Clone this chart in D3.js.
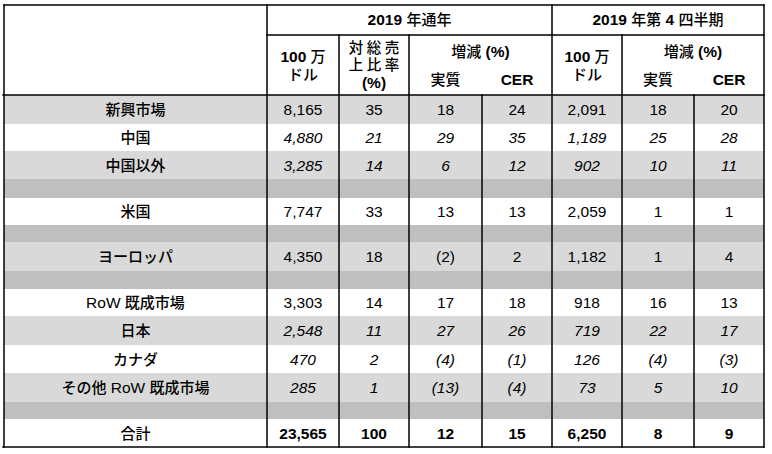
<!DOCTYPE html>
<html><head><meta charset="utf-8">
<script src="https://cdn.jsdelivr.net/npm/d3@7"></script>
<style>
html,body{margin:0;padding:0;background:#fff;}
svg{display:block;}
text{font-family:"Liberation Sans",Arial,"Noto Sans CJK JP",sans-serif;fill:#000;}
</style></head>
<body><svg id="c" width="772" height="454"></svg>
<script>
// ---- data ----
const regions   = ["新興市場","中国","中国以外","","米国","","ヨーロッパ","","RoW 既成市場","日本","カナダ","その他 RoW 既成市場","","合計"];
const rowKinds  = ["main","sub","sub","gap","main","gap","main","gap","main","sub","sub","sub","gap","total"];
const fyMillions = [8165,4880,3285,null,7747,null,4350,null,3303,2548,470,285,null,23565];
const fyShare    = [35,21,14,null,33,null,18,null,14,11,2,1,null,100];
const fyActual   = [18,29,6,null,13,null,-2,null,17,27,-4,-13,null,12];
const fyCER      = [24,35,12,null,13,null,2,null,18,26,-1,-4,null,15];
const q4Millions = [2091,1189,902,null,2059,null,1182,null,918,719,126,73,null,6250];
const q4Actual   = [18,25,10,null,1,null,1,null,16,22,-4,5,null,8];
const q4CER      = [20,28,11,null,1,null,4,null,13,17,-3,10,null,9];
const groupHeaders = ["2019 年通年","2019 年第 4 四半期"];
const subHeaders = {millions:["100 万","ドル"], share:["対総売","上比率","(%)"], change:"増減 (%)", actual:"実質", cer:"CER"};

// ---- layout / style ----
const colEdges = [4,267,339,409,482,552,622,694,764];
const rowHeights = [29,27,28,19,27,17,29,18,27,29,28,29,17,28];
const rowShade = ["light","white","light","dark","white","dark","light","dark","white","light","white","light","dark","white"];
const shadeColor = {light:"#d9d9d9", dark:"#bfbfbf", white:"#ffffff"};
const topY = 5, headMid = 35, headBottom = 95;
const fs = 15.5;

const svg = d3.select("#c");
const rowY = d3.scaleOrdinal().domain(d3.range(regions.length))
  .range(d3.range(regions.length).map(i => headBottom + d3.sum(rowHeights.slice(0,i))));
const bottomY = headBottom + d3.sum(rowHeights);
const colX = i => colEdges[i];
const colC = i => (colEdges[i]+colEdges[i+1])/2;

const fmt = d3.format(",");
const fmtVal = v => v == null ? "" : (v < 0 ? "(" + fmt(-v) + ")" : fmt(v));

// row backgrounds
svg.append("g").selectAll("rect").data(regions).join("rect")
  .attr("x", colX(0)).attr("y", (d,i)=>rowY(i))
  .attr("width", colX(8)-colX(0)).attr("height", (d,i)=>rowHeights[i])
  .attr("fill", (d,i)=>shadeColor[rowShade[i]]);

// helper to write text with CJK runs in a CJK font
function richText(sel, str, latinWeight, cjkWeight){
  const parts = str.match(/[\u3000-\u9fff\uff00-\uffef]+|[^\u3000-\u9fff\uff00-\uffef]+/g) || [];
  parts.forEach(p=>{
    const cjk = /[\u3000-\u9fff\uff00-\uffef]/.test(p);
    sel.append("tspan").text(p)
      .attr("font-family", cjk ? "'Noto Sans CJK JP',sans-serif" : "'Liberation Sans',Arial,sans-serif")
      .attr("font-size", cjk ? 15 : null)
      .attr("font-weight", cjk ? cjkWeight : latinWeight);
  });
}

// body cells
const cols = [fyMillions, fyShare, fyActual, fyCER, q4Millions, q4Actual, q4CER];
const body = svg.append("g").attr("font-size", fs);
regions.forEach((r,i)=>{
  if (rowKinds[i]==="gap") return;
  const cy = rowY(i) + rowHeights[i]/2 + 5.5;
  const t = body.append("text").attr("x", colC(0)).attr("y", cy).attr("text-anchor","middle");
  richText(t, r, rowKinds[i]==="total"?"bold":"normal", 500);
  cols.forEach((arr,j)=>{
    body.append("text").attr("x", colC(j+1)).attr("y", cy).attr("text-anchor","middle")
      .attr("font-style", rowKinds[i]==="sub" ? "italic" : "normal")
      .attr("font-weight", rowKinds[i]==="total" ? "bold" : "normal")
      .text(fmtVal(arr[i]));
  });
});

// header text
const hd = svg.append("g").attr("font-size", fs).attr("text-anchor","middle");
function hText(x,y,str,ls){
  const t = hd.append("text").attr("x",x + (ls||0)/2).attr("y",y);
  if (ls) t.attr("letter-spacing", ls);
  richText(t,str,"bold",500);
}
hText((colX(1)+colX(5))/2, 25, groupHeaders[0]);
hText((colX(5)+colX(8))/2, 25, groupHeaders[1]);
[1,5].forEach(c=>{
  hText(colC(c), 62, subHeaders.millions[0]);
  hText(colC(c), 80, subHeaders.millions[1]);
});
// stacked share header (plain text with font fallback, tighter line box)
[[subHeaders.share[0],53,3.5],[subHeaders.share[1],69.5,3.5]].forEach(([s,y,ls])=>{
  hd.append("text").attr("x", colC(2) + ls/2).attr("y", y)
    .attr("font-size", 14.5).attr("font-weight", 500).attr("letter-spacing", ls)
    .style("font-family", "'Liberation Sans','Noto Sans CJK JP',sans-serif")
    .text(s);
});
hText(colC(2), 88, subHeaders.share[2]);
[[3,4],[6,7]].forEach(([a,b])=>{
  hText((colX(a)+colX(b+1))/2, 57, subHeaders.change);
  hText(colC(a), 85, subHeaders.actual);
  hText(colC(b), 85, subHeaders.cer);
});

// grid lines
const lines = [
  [colX(0), topY, colX(8), topY],
  [colX(1), headMid, colX(8), headMid],
  [colX(0)-1, headBottom, colX(8), headBottom],
  [colX(0)-1, bottomY, colX(8), bottomY],
  [colX(0), topY, colX(0), bottomY],
  [colX(1), topY, colX(1), bottomY],
  [colX(2), headMid, colX(2), bottomY],
  [colX(3), headMid, colX(3), bottomY],
  [colX(4), headBottom, colX(4), bottomY],
  [colX(5), topY, colX(5), bottomY],
  [colX(6), headMid, colX(6), bottomY],
  [colX(7), headBottom, colX(7), bottomY],
  [colX(8), topY, colX(8), bottomY]
];
svg.append("g").selectAll("line").data(lines).join("line")
  .attr("x1",d=>d[0]).attr("y1",d=>d[1]).attr("x2",d=>d[2]).attr("y2",d=>d[3])
  .attr("stroke","#000").attr("stroke-width",1.5).attr("stroke-linecap","square");
</script></body></html>
